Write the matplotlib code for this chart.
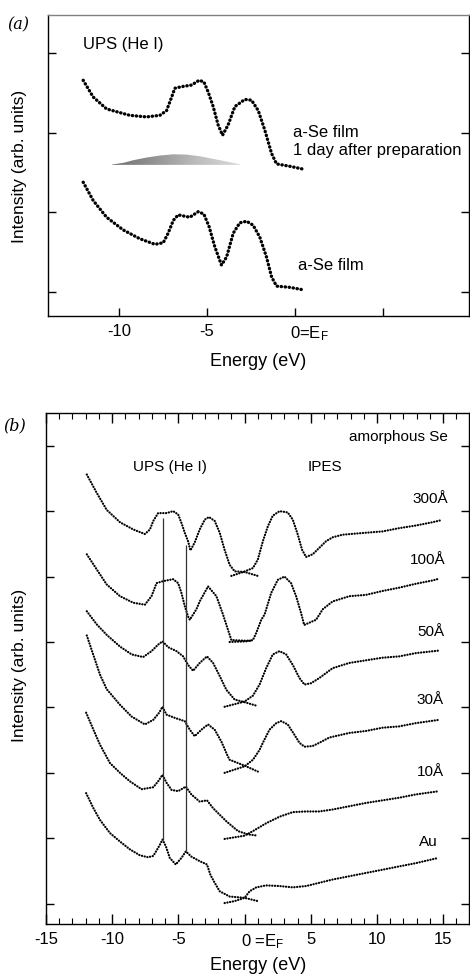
import matplotlib
matplotlib.use("Agg")
import matplotlib.pyplot as plt
import numpy as np
from matplotlib.ticker import MultipleLocator

plt.rcParams['font.family'] = ['Liberation Sans', 'DejaVu Sans']
plt.rcParams['mathtext.fontset'] = 'custom'
plt.rcParams['mathtext.rm'] = 'Liberation Sans'
plt.rcParams['mathtext.it'] = 'Liberation Sans'
plt.rcParams['axes.unicode_minus'] = False

# ---------------- panel (a): UPS of a-Se film ----------------
a_fresh_e = [-12.03, -11.46, -10.7, -9.75, -8.81, -7.95, -7.48, -7.2, -6.91, -6.63,
             -5.97, -5.49, -5.17, -4.87, -4.55, -4.17, -3.88, -3.5, -3.13, -2.74,
             -2.37, -1.99, -1.61, -1.32, -1.04, -0.28, 0.57]
a_fresh_i = [1.38, 1.15, 0.94, 0.78, 0.67, 0.60, 0.62, 0.74, 0.90, 0.97,
             0.94, 1.01, 0.98, 0.82, 0.57, 0.34, 0.44, 0.74, 0.87, 0.89,
             0.84, 0.69, 0.44, 0.19, 0.075, 0.06, 0.025]

a_aged_e = [-12.03, -11.46, -10.7, -9.38, -8.43, -7.67, -7.29, -7.0, -6.82, -6.44,
            -5.87, -5.44, -5.17, -4.92, -4.64, -4.36, -4.11, -3.79, -3.41, -2.84,
            -2.46, -2.08, -1.70, -1.32, -1.04, -0.28, 0.57]
a_aged_i = [2.66, 2.45, 2.30, 2.22, 2.20, 2.22, 2.28, 2.45, 2.56, 2.58,
            2.60, 2.66, 2.64, 2.51, 2.33, 2.10, 1.97, 2.10, 2.33, 2.42,
            2.41, 2.28, 2.03, 1.74, 1.61, 1.58, 1.54]

# shaded difference lens between the two spectra
lens_e = [-10.42, -9.75, -9.19, -8.43, -7.67, -6.91, -6.15, -5.40, -4.64, -3.88, -3.13]
lens_top = [1.602, 1.623, 1.656, 1.690, 1.715, 1.731, 1.727, 1.706, 1.673, 1.640, 1.606]
lens_base = 1.598

a_xticks = [-10, -5, 0, 5]
a_xticklabels = ['-10', '-5', '', '']
a_yticks = [0, 1, 2, 3]

# ---------------- panel (b): UPS + IPES vs Se thickness ----------------
ups_e = {}
ups_i = {}
ipes_e = {}
ipes_i = {}

ups_e['300'] = [-11.92, -11.17, -10.42, -9.41, -8.41, -7.53, -7.15, -6.90, -6.53, -5.90,
                -5.40, -5.02, -4.77, -4.52, -4.27, -4.09, -3.77, -3.39, -3.01, -2.69,
                -2.26, -1.88, -1.51, -1.13, -0.75, 0.0, 1.0]
ups_i['300'] = [6.56, 6.28, 6.02, 5.83, 5.72, 5.65, 5.72, 5.85, 5.97, 5.97,
                6.00, 5.95, 5.82, 5.67, 5.54, 5.40, 5.52, 5.72, 5.87, 5.91,
                5.85, 5.67, 5.41, 5.18, 5.08, 5.07, 5.01]
ipes_e['300'] = [-1.00, -0.10, 0.63, 1.00, 1.38, 1.76, 2.13, 2.64, 3.26, 3.64,
                 4.02, 4.34, 4.64, 5.14, 5.65, 6.15, 6.65, 7.40, 9.16, 10.42,
                 11.67, 12.93, 14.18, 14.81]
ipes_i['300'] = [5.01, 5.07, 5.13, 5.26, 5.54, 5.77, 5.93, 6.00, 5.98, 5.87,
                 5.64, 5.41, 5.30, 5.34, 5.44, 5.54, 5.60, 5.64, 5.67, 5.69,
                 5.74, 5.78, 5.83, 5.86]

ups_e['100'] = [-11.92, -11.17, -10.42, -9.41, -8.41, -7.53, -7.03, -6.65, -6.15, -5.40,
                -5.02, -4.77, -4.52, -4.27, -4.14, -3.64, -3.39, -2.76, -2.13, -1.63,
                -1.26, -1.00, 0.0, 0.63]
ups_i['100'] = [5.34, 5.11, 4.88, 4.70, 4.60, 4.57, 4.70, 4.90, 4.93, 4.96,
                4.90, 4.75, 4.55, 4.39, 4.34, 4.50, 4.62, 4.85, 4.70, 4.42,
                4.19, 4.03, 4.02, 4.02]
ipes_e['100'] = [-1.13, 0.13, 0.63, 0.88, 1.26, 1.51, 2.01, 2.51, 3.01, 3.51,
                 3.89, 4.27, 4.50, 5.40, 5.90, 6.65, 7.91, 9.16, 10.42, 11.67,
                 12.93, 14.18, 14.73]
ipes_i['100'] = [4.00, 4.01, 4.03, 4.14, 4.34, 4.42, 4.75, 4.95, 5.00, 4.90,
                 4.70, 4.44, 4.26, 4.34, 4.50, 4.62, 4.70, 4.72, 4.78, 4.83,
                 4.89, 4.94, 4.97]

ups_e['50'] = [-11.92, -11.17, -10.42, -9.41, -8.53, -7.66, -7.03, -6.53, -6.20, -5.77,
               -5.14, -4.64, -4.27, -3.89, -3.39, -2.84, -2.38, -1.88, -1.38, -0.75,
               0.0, 1.0]
ups_i['50'] = [4.47, 4.27, 4.11, 3.93, 3.81, 3.77, 3.86, 3.96, 4.01, 3.92,
               3.86, 3.78, 3.65, 3.56, 3.68, 3.78, 3.68, 3.48, 3.27, 3.12,
               3.08, 3.02]
ipes_e['50'] = [-1.51, 0.0, 0.63, 1.13, 1.63, 2.13, 2.64, 3.14, 3.64, 4.14,
                4.52, 5.02, 5.65, 6.65, 7.91, 9.16, 10.42, 11.67, 12.93, 14.73]
ipes_i['50'] = [3.01, 3.09, 3.18, 3.35, 3.60, 3.81, 3.86, 3.81, 3.65, 3.45,
                3.35, 3.37, 3.45, 3.60, 3.68, 3.72, 3.76, 3.78, 3.83, 3.87]

ups_e['30'] = [-11.92, -11.42, -10.92, -10.42, -9.41, -8.53, -7.53, -6.90, -6.45, -6.20,
               -5.90, -5.27, -4.52, -4.14, -3.77, -3.26, -2.76, -2.26, -1.76, -1.26,
               -1.13, 0.0, 1.0]
ups_i['30'] = [4.10, 3.80, 3.50, 3.28, 3.04, 2.86, 2.74, 2.81, 2.92, 3.01,
               2.89, 2.84, 2.79, 2.66, 2.56, 2.66, 2.74, 2.66, 2.48, 2.25,
               2.20, 2.11, 2.02]
ipes_e['30'] = [-1.51, 0.0, 0.63, 1.13, 1.38, 1.88, 2.39, 2.76, 3.26, 3.77,
                4.14, 4.52, 5.14, 5.65, 6.40, 7.91, 9.16, 10.42, 11.67, 12.93,
                14.68]
ipes_i['30'] = [2.00, 2.10, 2.20, 2.35, 2.46, 2.66, 2.76, 2.79, 2.74, 2.58,
                2.46, 2.40, 2.41, 2.46, 2.54, 2.61, 2.64, 2.69, 2.71, 2.76,
                2.81]

ups_e['10'] = [-11.97, -11.42, -10.92, -10.17, -9.41, -8.66, -7.78, -6.90, -6.53, -6.20,
               -5.90, -5.52, -5.02, -4.44, -4.02, -3.39, -2.84, -2.38, -1.38, -0.50,
               0.25, 1.0]
ups_i['10'] = [2.92, 2.66, 2.43, 2.15, 2.00, 1.87, 1.75, 1.78, 1.87, 1.97,
               1.85, 1.74, 1.72, 1.79, 1.67, 1.56, 1.58, 1.46, 1.26, 1.11,
               1.06, 1.04]
ipes_e['10'] = [-1.51, 0.0, 0.63, 1.63, 2.64, 3.64, 4.64, 5.65, 6.65, 7.91,
                9.16, 10.42, 11.67, 12.93, 14.68]
ipes_i['10'] = [0.99, 1.04, 1.11, 1.23, 1.33, 1.40, 1.41, 1.41, 1.44, 1.49,
                1.54, 1.58, 1.62, 1.67, 1.72]

ups_e['Au'] = [-11.97, -11.42, -10.92, -10.17, -9.41, -8.66, -7.91, -7.30, -6.90, -6.60,
               -6.40, -6.20, -5.95, -5.65, -5.20, -4.77, -4.44, -4.02, -3.39, -2.84,
               -2.58, -2.26, -1.88, -1.13, 0.0, 1.0]
ups_i['Au'] = [1.69, 1.46, 1.28, 1.08, 0.95, 0.83, 0.74, 0.71, 0.73, 0.83,
               0.90, 0.98, 0.88, 0.70, 0.60, 0.70, 0.80, 0.72, 0.65, 0.60,
               0.44, 0.32, 0.19, 0.11, 0.09, 0.04]
ipes_e['Au'] = [-1.51, -0.75, 0.0, 0.38, 0.88, 1.63, 2.64, 3.64, 4.64, 5.65,
                6.65, 7.91, 9.16, 10.42, 11.67, 12.93, 14.63]
ipes_i['Au'] = [0.01, 0.04, 0.09, 0.19, 0.25, 0.28, 0.27, 0.25, 0.27, 0.32,
                0.37, 0.42, 0.47, 0.52, 0.57, 0.62, 0.70]

b_labels = ['300Å', '100Å', '50Å', '30Å', '10Å', 'Au']
b_keys = ['300', '100', '50', '30', '10', 'Au']
b_label_e = [15.36, 15.2, 15.06, 15.06, 15.06, 14.6]
b_label_y = [6.18, 5.26, 4.16, 3.12, 2.02, 0.95]

# Au-derived reference lines
vline_e = [-6.20, -4.44]
vline_lo = [0.98, 0.80]
vline_hi = [5.90, 5.49]

b_xticks = [-15, -10, -5, 0, 5, 10, 15]
b_xticklabels = ['-15', '-10', '-5', '', '5', '10', '15']
b_yticks = [0, 1, 2, 3, 4, 5, 6, 7]

# ---------------- figure ----------------
fig = plt.figure(figsize=(4.70, 9.76), dpi=100)
ax1 = fig.add_axes([48 / 470, 1 - 316 / 976, 421 / 470, 301 / 976])
ax2 = fig.add_axes([46 / 470, 1 - 924 / 976, 423 / 470, 511 / 976])

dot_style = dict(color='black', lw=2.4, ls=(0, (0.1, 1.1)), dash_capstyle='round')
spec_style = dict(color='black', lw=1.6, ls=(0, (0.1, 1.15)), dash_capstyle='round')

# panel (a)
ax1.plot(a_aged_e, a_aged_i, **dot_style)
ax1.plot(a_fresh_e, a_fresh_i, **dot_style)
poly = ax1.fill_between(lens_e, lens_base, lens_top, color='none', lw=0)
grad = np.linspace(0, 1, 256).reshape(1, -1)
img = ax1.imshow(grad, cmap='Greys_r', vmin=-0.9, vmax=1.6, aspect='auto',
                 extent=[lens_e[0], lens_e[-1], lens_base, max(lens_top)], zorder=1)
img.set_clip_path(poly.get_paths()[0], transform=ax1.transData)

ax1.set_xlim(-14.03, 9.9)
ax1.set_ylim(-0.30, 3.48)
ax1.set_xticks(a_xticks)
ax1.set_xticklabels(a_xticklabels)
ax1.set_yticks(a_yticks)
ax1.set_yticklabels([])
ax1.tick_params(axis='x', direction='in', length=6, width=1, labelsize=12, pad=6)
ax1.tick_params(axis='y', direction='in', length=6, width=1, left=True, right=True)
ax1.spines['top'].set_color('0.5')
for s in ax1.spines.values():
    s.set_linewidth(1.0)
ax1.text(-0.3, -0.028, '0=$\\mathrm{E_F}$', transform=ax1.get_xaxis_transform(),
         ha='left', va='top', fontsize=12)

ax1.text(-12.05, 3.11, 'UPS (He I)', fontsize=12, ha='left', va='center')
ax1.text(-0.11, 2.0, 'a-Se film', fontsize=12, ha='left', va='center')
ax1.text(-0.11, 1.78, '1 day after preparation', fontsize=12, ha='left', va='center')
ax1.text(0.17, 0.34, 'a-Se film', fontsize=12, ha='left', va='center')

fig.text(20 / 470, 1 - 166 / 976, 'Intensity (arb. units)', rotation=90,
         ha='center', va='center', fontsize=12.5)
fig.text(258 / 470, 1 - 362 / 976, 'Energy (eV)', ha='center', va='center', fontsize=13)
fig.text(18 / 470, 1 - 25 / 976, '(a)', family='DejaVu Serif', style='italic',
         ha='center', va='center', fontsize=11.5)

# panel (b)
for k in b_keys:
    ax2.plot(ups_e[k], ups_i[k], **spec_style)
    ax2.plot(ipes_e[k], ipes_i[k], **spec_style)
ax2.vlines(vline_e, vline_lo, vline_hi, color='0.2', lw=0.9)

for lab, ex, ey in zip(b_labels, b_label_e, b_label_y):
    ax2.text(ex, ey, lab, fontsize=11, ha='right', va='center')
ax2.text(15.36, 7.13, 'amorphous Se', fontsize=11, ha='right', va='center')
ax2.text(-8.43, 6.67, 'UPS (He I)', fontsize=11, ha='left', va='center')
ax2.text(4.74, 6.67, 'IPES', fontsize=11, ha='left', va='center')

ax2.set_xlim(-15, 16.95)
ax2.set_ylim(-0.31, 7.5)
ax2.set_xticks(b_xticks)
ax2.set_xticklabels(b_xticklabels)
ax2.xaxis.set_minor_locator(MultipleLocator(1))
ax2.set_yticks(b_yticks)
ax2.set_yticklabels([])
ax2.tick_params(axis='x', which='major', direction='in', length=7, width=1,
                top=True, bottom=True, labelsize=12, pad=6)
ax2.tick_params(axis='x', which='minor', direction='in', length=4, width=0.8,
                top=True, bottom=True)
ax2.tick_params(axis='y', direction='in', length=6, width=1, left=True, right=True)
for s in ax2.spines.values():
    s.set_linewidth(1.0)
ax2.text(-0.3, -0.016, '0 =$\\mathrm{E_F}$', transform=ax2.get_xaxis_transform(),
         ha='left', va='top', fontsize=12)

fig.text(20 / 470, 1 - 665 / 976, 'Intensity (arb. units)', rotation=90,
         ha='center', va='center', fontsize=12.5)
fig.text(258 / 470, 1 - 965 / 976, 'Energy (eV)', ha='center', va='center', fontsize=13)
fig.text(15 / 470, 1 - 426 / 976, '(b)', family='DejaVu Serif', style='italic',
         ha='center', va='center', fontsize=11.5)

fig.savefig('out.png', dpi=100)
